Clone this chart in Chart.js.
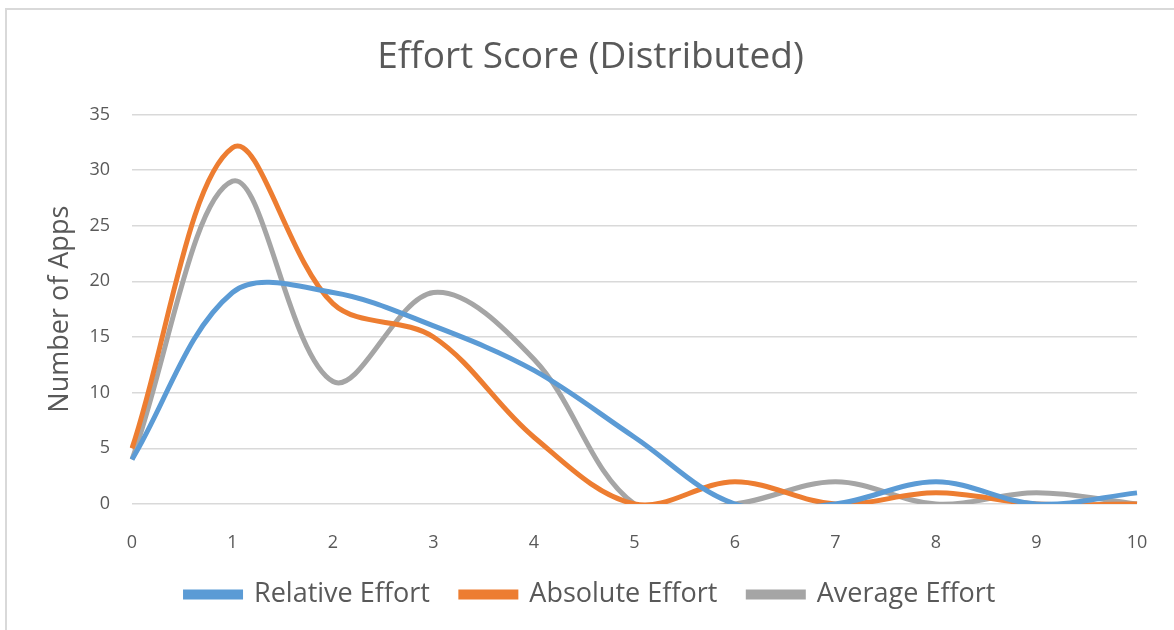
<!DOCTYPE html>
<html lang="en">
<head>
    <meta charset="UTF-8">
    <title>Effort Score (Distributed)</title>
    <script src="https://cdn.jsdelivr.net/npm/chart.js"></script>
    <style>
        html, body { margin: 0; padding: 0; background: #fff; }
        #wrap { position: relative; width: 1174px; height: 630px; overflow: hidden; }
        #frame { position: absolute; left: 5px; top: 8px; width: 1300px; height: 700px;
                 border-top: 2px solid #d9d9d9; border-left: 2px solid #d9d9d9; }
        canvas { position: absolute; left: 0; top: 0; }
    </style>
</head>
<body>
<div id="wrap">
    <div id="frame"></div>
    <canvas id="effortChart" width="1174" height="630"></canvas>
</div>

<script>
    // data
    const scores = ["0", "1", "2", "3", "4", "5", "6", "7", "8", "9", "10"];
    const relativeEffort = [4, 19, 19, 16, 12, 6, 0, 0, 2, 0, 1];
    const absoluteEffort = [5, 32, 18, 15, 6, 0, 2, 0, 1, 0, 0];
    const averageEffort = [4, 29, 11, 19, 13, 0, 0, 2, 0, 1, 0];

    const FONT = "'Open Sans', Lato, sans-serif";
    const TXT = "#595959";

    function serie(label, values, color) {
        return {
            label: label,
            data: values,
            borderColor: color,
            backgroundColor: color,
            borderWidth: 5,
            pointRadius: 0,
            tension: 0.35,
            capBezierPoints: false,
            fill: false
        };
    }

    const ctx = document.getElementById("effortChart").getContext("2d");
    new Chart(ctx, {
        type: "line",
        data: {
            labels: scores,
            datasets: [
                serie("Relative Effort", relativeEffort, "#5b9bd5"),
                serie("Absolute Effort", absoluteEffort, "#ed7d31"),
                serie("Average Effort", averageEffort, "#a5a5a5")
            ]
        },
        options: {
            responsive: false,
            animation: false,
            layout: { padding: { left: 44, right: 37, top: 0, bottom: 12 } },
            plugins: {
                title: {
                    display: true,
                    text: "Effort Score (Distributed)",
                    color: TXT,
                    font: { family: FONT, size: 37, weight: "normal" },
                    padding: { top: 35, bottom: 35 }
                },
                legend: {
                    position: "bottom",
                    labels: {
                        color: TXT,
                        font: { family: FONT, size: 27 },
                        boxWidth: 55,
                        boxHeight: 5,
                        padding: 31
                    }
                },
                tooltip: { enabled: false }
            },
            scales: {
                x: {
                    offset: false,
                    grid: { display: false },
                    border: { display: false },
                    ticks: { color: TXT, font: { family: FONT, size: 18 }, padding: 20, maxRotation: 0 },
                    afterFit: s => { s.height = 46; }
                },
                y: {
                    min: 0,
                    max: 35,
                    ticks: { stepSize: 5, color: TXT, font: { family: FONT, size: 18 }, padding: 22 },
                    grid: { color: "#d9d9d9", lineWidth: 1.5, drawTicks: false },
                    border: { display: false },
                    title: {
                        display: true,
                        text: "Number of Apps",
                        color: TXT,
                        font: { family: FONT, size: 27 },
                        padding: { top: 0, bottom: 0 }
                    },
                    afterFit: s => { s.width = 88; }
                }
            }
        }
    });
</script>
</body>
</html>
